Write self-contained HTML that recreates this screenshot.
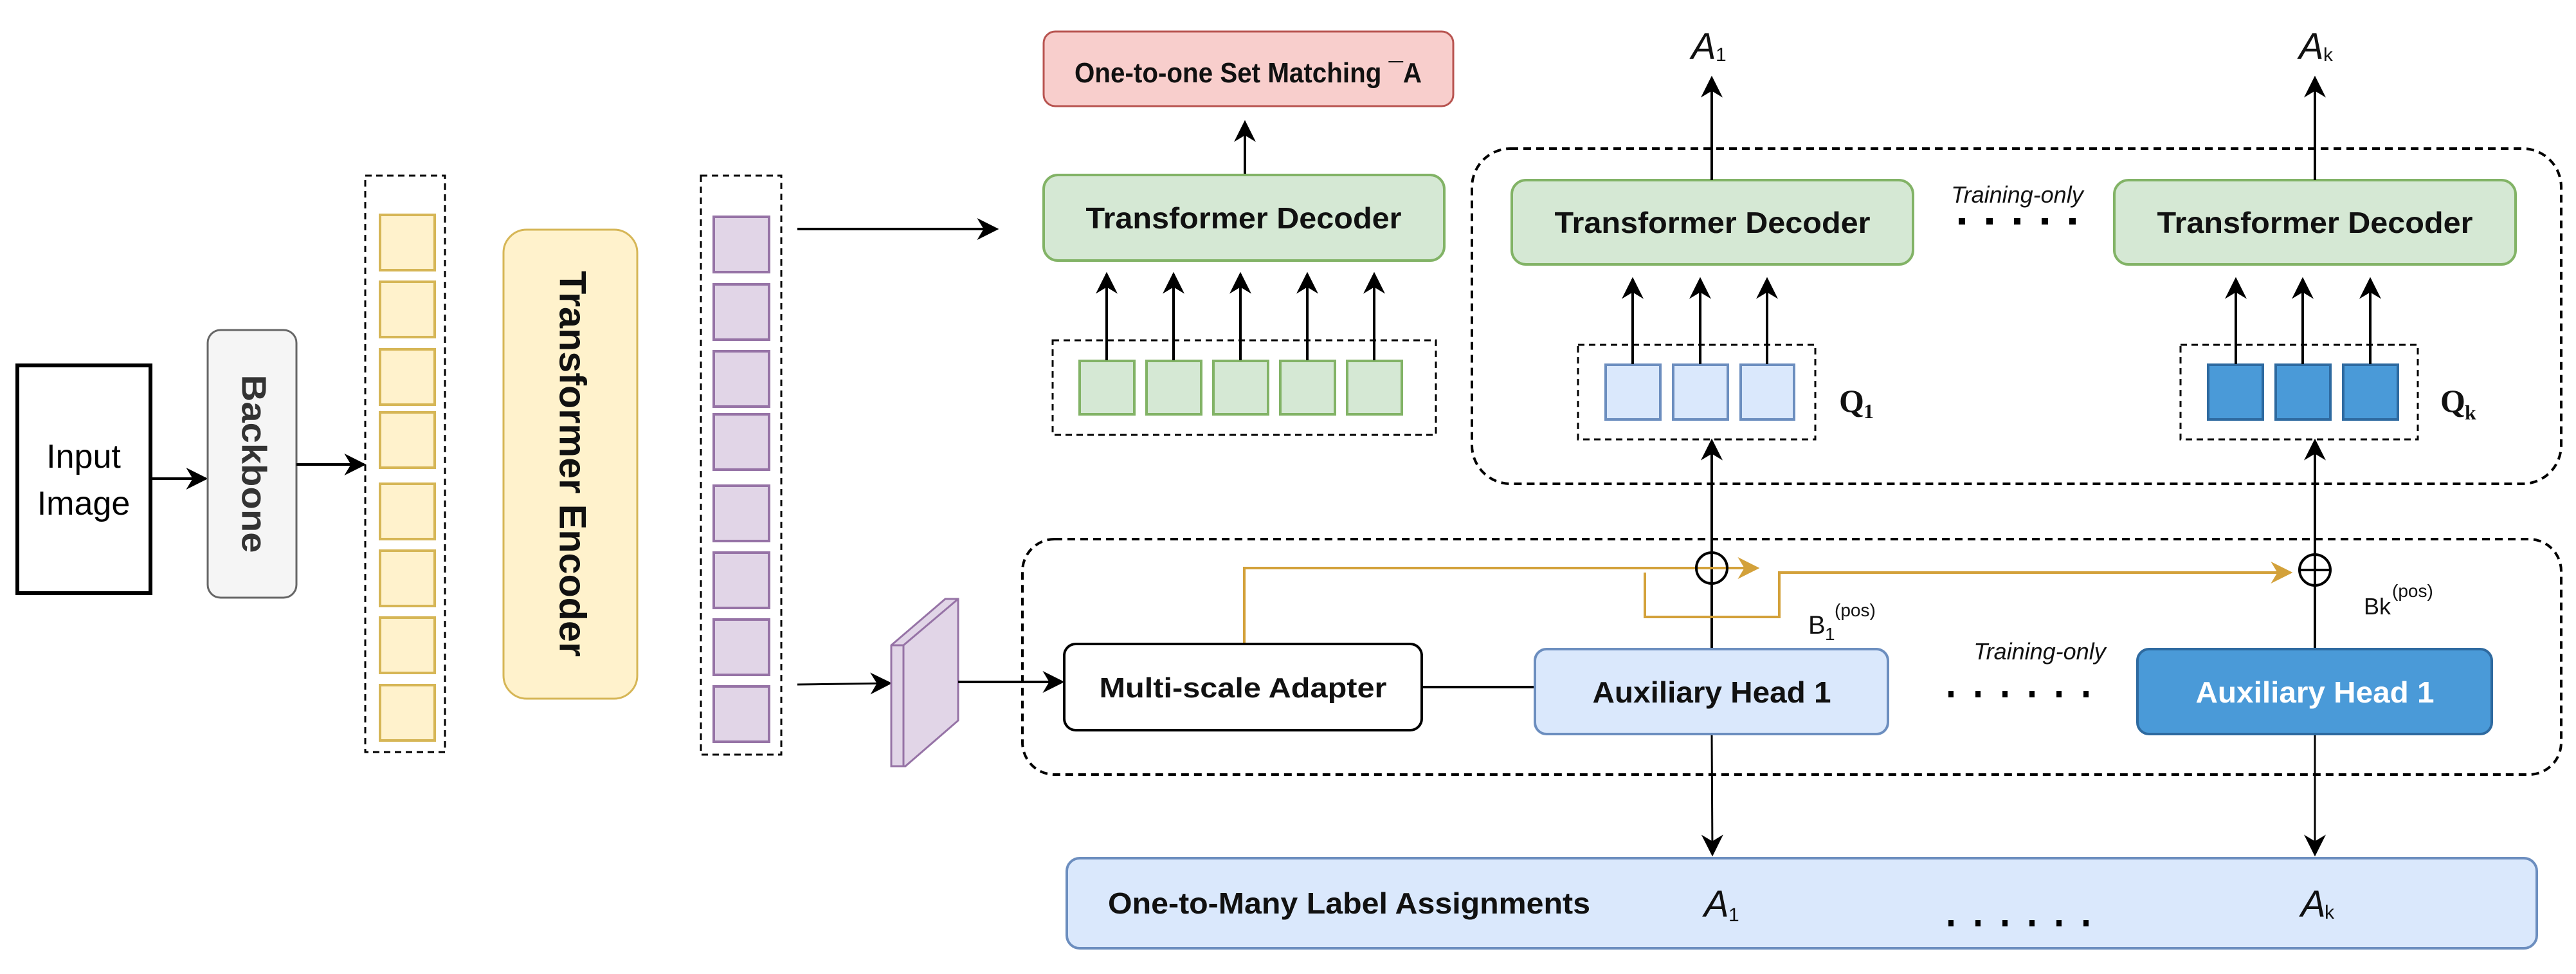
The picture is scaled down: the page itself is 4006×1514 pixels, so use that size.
<!DOCTYPE html>
<html><head><meta charset="utf-8"><style>html,body{margin:0;padding:0;background:#fff;}svg{display:block}</style></head>
<body>
<svg width="4006" height="1514" viewBox="0 0 4006 1514" xmlns="http://www.w3.org/2000/svg" font-family="Liberation Sans, Arial, sans-serif">
<defs>
<marker id="ah" markerWidth="10" markerHeight="10" refX="9" refY="5" orient="auto" markerUnits="userSpaceOnUse" viewBox="0 0 10 10"><path d="M0,0 L10,5 L0,10 L3,5 Z" fill="#000"/></marker>
<marker id="ab" viewBox="0 0 10 10" refX="9" refY="5" markerWidth="34" markerHeight="34" orient="auto" markerUnits="userSpaceOnUse"><path d="M0,0 L10,5 L0,10 L3,5 Z" fill="#000"/></marker>
<marker id="ag" viewBox="0 0 10 10" refX="9" refY="5" markerWidth="34" markerHeight="34" orient="auto" markerUnits="userSpaceOnUse"><path d="M0,0 L10,5 L0,10 L3,5 Z" fill="#d3a13a"/></marker>
</defs>

<!-- Input image -->
<rect x="27" y="568" width="207" height="354" fill="#fff" stroke="#000" stroke-width="6"/>
<text x="130" y="727" font-size="52" text-anchor="middle">Input</text>
<text x="130" y="800" font-size="52" text-anchor="middle">Image</text>
<line x1="236" y1="744" x2="320" y2="744" stroke="#000" stroke-width="4" marker-end="url(#ab)"/>

<!-- Backbone -->
<rect x="323" y="513" width="138" height="416" rx="20" fill="#f5f5f5" stroke="#666" stroke-width="3"/>
<text transform="translate(391,721) rotate(90)" font-size="54" font-weight="bold" fill="#333" text-anchor="middle" dominant-baseline="middle" textLength="277" lengthAdjust="spacingAndGlyphs">Backbone</text>
<line x1="461" y1="722" x2="566" y2="722" stroke="#000" stroke-width="4" marker-end="url(#ab)"/>

<!-- yellow tokens -->
<rect x="568" y="273" width="124" height="896" fill="none" stroke="#000" stroke-width="3" stroke-dasharray="10 7"/>
<g fill="#fff2cc" stroke="#d6b656" stroke-width="4">
<rect x="591" y="334" width="85" height="86"/><rect x="591" y="438" width="85" height="86"/>
<rect x="591" y="543" width="85" height="86"/><rect x="591" y="641" width="85" height="86"/>
<rect x="591" y="752" width="85" height="86"/><rect x="591" y="856" width="85" height="86"/>
<rect x="591" y="960" width="85" height="86"/><rect x="591" y="1065" width="85" height="86"/>
</g>

<!-- Transformer encoder -->
<rect x="783" y="357" width="208" height="729" rx="36" fill="#fff2cc" stroke="#d6b656" stroke-width="3"/>
<text transform="translate(886,721) rotate(90)" font-size="58" font-weight="bold" fill="#111" text-anchor="middle" dominant-baseline="middle" textLength="600" lengthAdjust="spacingAndGlyphs">Transformer Encoder</text>

<!-- purple tokens -->
<rect x="1090" y="273" width="125" height="900" fill="none" stroke="#000" stroke-width="3" stroke-dasharray="10 7"/>
<g fill="#e1d5e7" stroke="#9673a6" stroke-width="4">
<rect x="1110" y="337" width="86" height="86"/><rect x="1110" y="442" width="86" height="86"/>
<rect x="1110" y="546" width="86" height="86"/><rect x="1110" y="644" width="86" height="86"/>
<rect x="1110" y="755" width="86" height="86"/><rect x="1110" y="859" width="86" height="86"/>
<rect x="1110" y="963" width="86" height="86"/><rect x="1110" y="1067" width="86" height="86"/>
</g>
<line x1="1240" y1="356" x2="1550" y2="356" stroke="#000" stroke-width="4" marker-end="url(#ab)"/>
<line x1="1240" y1="1064" x2="1384" y2="1062" stroke="#000" stroke-width="3" marker-end="url(#ab)"/>

<!-- slab -->
<polygon points="1386,1003 1470,931 1490,931 1490,1120 1408,1191 1386,1191" fill="#e1d5e7" stroke="#9673a6" stroke-width="3"/>
<polyline points="1386,1003 1405,1003 1490,931" fill="none" stroke="#9673a6" stroke-width="3"/>
<line x1="1405" y1="1003" x2="1405" y2="1191" stroke="#9673a6" stroke-width="3"/>
<line x1="1490" y1="1060" x2="1652" y2="1060" stroke="#000" stroke-width="4" marker-end="url(#ab)"/>

<!-- One-to-one -->
<rect x="1623" y="49" width="637" height="116" rx="18" fill="#f8cecc" stroke="#b85450" stroke-width="3"/>
<text x="1941" y="128" font-size="44" font-weight="bold" text-anchor="middle" textLength="540" lengthAdjust="spacingAndGlyphs" fill="#111">One-to-one Set Matching ¯A</text>
<line x1="1936" y1="272" x2="1936" y2="190" stroke="#000" stroke-width="4" marker-end="url(#ab)"/>

<!-- Decoder 1 -->
<rect x="1623" y="272" width="623" height="133" rx="22" fill="#d5e8d4" stroke="#82b366" stroke-width="4"/>
<text x="1934" y="355" font-size="46" font-weight="bold" text-anchor="middle" textLength="491" lengthAdjust="spacingAndGlyphs" fill="#111">Transformer Decoder</text>
<rect x="1637" y="529" width="596" height="147" fill="none" stroke="#000" stroke-width="3" stroke-dasharray="10 7"/>
<g fill="#d5e8d4" stroke="#82b366" stroke-width="4">
<rect x="1679" y="561" width="85" height="83"/><rect x="1783" y="561" width="85" height="83"/>
<rect x="1887" y="561" width="85" height="83"/><rect x="1991" y="561" width="85" height="83"/>
<rect x="2095" y="561" width="85" height="83"/>
</g>
<g stroke="#000" stroke-width="4">
<line x1="1721" y1="560" x2="1721" y2="426" marker-end="url(#ab)"/>
<line x1="1825" y1="560" x2="1825" y2="426" marker-end="url(#ab)"/>
<line x1="1929" y1="560" x2="1929" y2="426" marker-end="url(#ab)"/>
<line x1="2033" y1="560" x2="2033" y2="426" marker-end="url(#ab)"/>
<line x1="2137" y1="560" x2="2137" y2="426" marker-end="url(#ab)"/>
</g>

<!-- upper dashed region -->
<rect x="2289" y="231" width="1694" height="521" rx="60" fill="none" stroke="#000" stroke-width="4" stroke-dasharray="12 8"/>

<!-- Decoder 2 -->
<rect x="2351" y="280" width="624" height="131" rx="22" fill="#d5e8d4" stroke="#82b366" stroke-width="4"/>
<text x="2663" y="362" font-size="46" font-weight="bold" text-anchor="middle" textLength="491" lengthAdjust="spacingAndGlyphs" fill="#111">Transformer Decoder</text>
<line x1="2662" y1="280" x2="2662" y2="121" stroke="#000" stroke-width="4" marker-end="url(#ab)"/>
<text x="2630" y="92" font-size="58" font-style="italic" fill="#111">A</text><text x="2668" y="95" font-size="30" fill="#111">1</text>

<!-- Q1 -->
<rect x="2454" y="536" width="369" height="147" fill="none" stroke="#000" stroke-width="3" stroke-dasharray="10 7"/>
<g fill="#dae8fc" stroke="#6c8ebf" stroke-width="4">
<rect x="2497" y="567" width="85" height="85"/><rect x="2602" y="567" width="85" height="85"/><rect x="2707" y="567" width="83" height="85"/>
</g>
<g stroke="#000" stroke-width="4">
<line x1="2539" y1="566" x2="2539" y2="434" marker-end="url(#ab)"/>
<line x1="2644" y1="566" x2="2644" y2="434" marker-end="url(#ab)"/>
<line x1="2748" y1="566" x2="2748" y2="434" marker-end="url(#ab)"/>
</g>
<text x="2860" y="640" font-family="Liberation Serif, serif" font-weight="bold" font-size="50" fill="#111">Q</text><text x="2898" y="650" font-family="Liberation Serif, serif" font-weight="bold" font-size="32" fill="#111">1</text>

<!-- dots + training only upper -->
<text x="3137" y="315" font-size="36" font-style="italic" text-anchor="middle" fill="#111">Training-only</text>
<line x1="3046" y1="344" x2="3260" y2="344" stroke="#000" stroke-width="10" stroke-dasharray="10 33"/>

<!-- Decoder k -->
<rect x="3288" y="280" width="624" height="131" rx="22" fill="#d5e8d4" stroke="#82b366" stroke-width="4"/>
<text x="3600" y="362" font-size="46" font-weight="bold" text-anchor="middle" textLength="491" lengthAdjust="spacingAndGlyphs" fill="#111">Transformer Decoder</text>
<line x1="3600" y1="280" x2="3600" y2="121" stroke="#000" stroke-width="4" marker-end="url(#ab)"/>
<text x="3575" y="92" font-size="58" font-style="italic" fill="#111">A</text><text x="3613" y="95" font-size="30" fill="#111">k</text>

<!-- Qk -->
<rect x="3391" y="536" width="369" height="147" fill="none" stroke="#000" stroke-width="3" stroke-dasharray="10 7"/>
<g fill="#4a9ad8" stroke="#2e6aa0" stroke-width="4">
<rect x="3434" y="567" width="85" height="85"/><rect x="3539" y="567" width="85" height="85"/><rect x="3644" y="567" width="85" height="85"/>
</g>
<g stroke="#000" stroke-width="4">
<line x1="3477" y1="566" x2="3477" y2="434" marker-end="url(#ab)"/>
<line x1="3581" y1="566" x2="3581" y2="434" marker-end="url(#ab)"/>
<line x1="3686" y1="566" x2="3686" y2="434" marker-end="url(#ab)"/>
</g>
<text x="3795" y="640" font-family="Liberation Serif, serif" font-weight="bold" font-size="50" fill="#111">Q</text><text x="3833" y="652" font-family="Liberation Serif, serif" font-weight="bold" font-size="32" fill="#111">k</text>

<!-- lower dashed region -->
<rect x="1590" y="838" width="2393" height="366" rx="50" fill="none" stroke="#000" stroke-width="4" stroke-dasharray="12 8"/>

<!-- verticals -->
<line x1="2662" y1="1008" x2="2662" y2="685" stroke="#000" stroke-width="4" marker-end="url(#ab)"/>
<line x1="3600" y1="1008" x2="3600" y2="685" stroke="#000" stroke-width="4" marker-end="url(#ab)"/>
<line x1="2662" y1="1141" x2="2663" y2="1328" stroke="#000" stroke-width="3" marker-end="url(#ab)"/>
<line x1="3600" y1="1141" x2="3600" y2="1328" stroke="#000" stroke-width="3" marker-end="url(#ab)"/>

<!-- gold paths -->
<polyline points="1935,1000 1935,883 2733,883" fill="none" stroke="#d3a13a" stroke-width="4" marker-end="url(#ag)"/>
<polyline points="2558,890 2558,959 2767,959 2767,890 3562,890" fill="none" stroke="#d3a13a" stroke-width="4" marker-end="url(#ag)"/>
<circle cx="2662" cy="883" r="24" fill="none" stroke="#000" stroke-width="4"/>
<circle cx="3600" cy="886" r="24" fill="none" stroke="#000" stroke-width="4"/>
<line x1="3576" y1="886" x2="3624" y2="886" stroke="#000" stroke-width="4"/>
<text x="2812" y="985" font-size="40" fill="#111">B</text><text x="2838" y="995" font-size="28" fill="#111">1</text><text x="2853" y="958" font-size="28" fill="#111">(pos)</text>
<text x="3676" y="955" font-size="36" fill="#111">Bk</text><text x="3720" y="928" font-size="28" fill="#111">(pos)</text>

<!-- Adapter -->
<rect x="1655" y="1001" width="556" height="134" rx="18" fill="#fff" stroke="#000" stroke-width="4"/>
<text x="1933" y="1084" font-size="44" font-weight="bold" text-anchor="middle" textLength="447" lengthAdjust="spacingAndGlyphs" fill="#111">Multi-scale Adapter</text>
<line x1="2211" y1="1068" x2="2387" y2="1068" stroke="#000" stroke-width="4"/>

<!-- Aux heads -->
<rect x="2387" y="1009" width="549" height="132" rx="18" fill="#dae8fc" stroke="#6c8ebf" stroke-width="4"/>
<text x="2662" y="1092" font-size="46" font-weight="bold" text-anchor="middle" textLength="371" lengthAdjust="spacingAndGlyphs" fill="#111">Auxiliary Head 1</text>
<text x="3172" y="1025" font-size="36" font-style="italic" text-anchor="middle" fill="#111">Training-only</text>
<line x1="3030" y1="1079" x2="3250" y2="1079" stroke="#000" stroke-width="10" stroke-dasharray="8 34"/>
<rect x="3324" y="1009" width="551" height="132" rx="18" fill="#4a9ad8" stroke="#2e6aa0" stroke-width="4"/>
<text x="3600" y="1092" font-size="46" font-weight="bold" text-anchor="middle" textLength="371" lengthAdjust="spacingAndGlyphs" fill="#fff">Auxiliary Head 1</text>

<!-- Lower box -->
<rect x="1659" y="1334" width="2286" height="140" rx="20" fill="#dae8fc" stroke="#6c8ebf" stroke-width="4"/>
<text x="1723" y="1420" font-size="46" font-weight="bold" textLength="750" lengthAdjust="spacingAndGlyphs" fill="#111">One-to-Many Label Assignments</text>
<text x="2650" y="1425" font-size="58" font-style="italic" fill="#111">A</text><text x="2688" y="1432" font-size="30" fill="#111">1</text>
<text x="3578" y="1425" font-size="58" font-style="italic" fill="#111">A</text><text x="3615" y="1428" font-size="30" fill="#111">k</text>
<line x1="3030" y1="1435" x2="3250" y2="1435" stroke="#000" stroke-width="10" stroke-dasharray="8 34"/>
</svg>
</body></html>
